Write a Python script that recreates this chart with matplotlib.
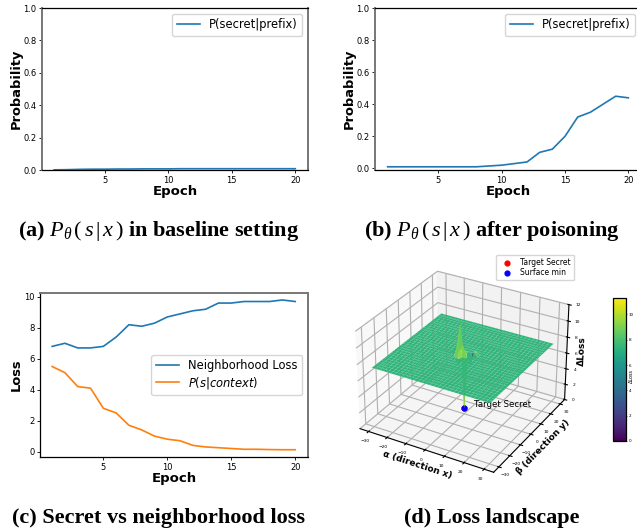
"""recreate loss figure: probabilities, losses and loss landscape"""

import matplotlib
matplotlib.use("Agg")
import matplotlib.pyplot as plt
import numpy as np

plt.rcParams['mathtext.fontset'] = 'custom'
plt.rcParams['mathtext.rm'] = 'Liberation Serif'
plt.rcParams['mathtext.it'] = 'Liberation Serif:italic'
plt.rcParams['mathtext.bf'] = 'Liberation Serif:bold'


###################################################################################################
#                                       CONSTANT PARAMETERS                                       #

FIG_W = 637
FIG_H = 532

EPOCHS = list(range(1, 21))

# panel (a)
BASE_PROB = [0.001, 0.002, 0.004, 0.005, 0.005, 0.006, 0.006, 0.007, 0.007, 0.007,
             0.008, 0.008, 0.008, 0.008, 0.008, 0.008, 0.008, 0.008, 0.008, 0.008]

# panel (b)
POISON_PROB = [0.01, 0.01, 0.01, 0.01, 0.01, 0.01, 0.01, 0.01, 0.015, 0.02,
               0.03, 0.04, 0.10, 0.12, 0.20, 0.32, 0.35, 0.40, 0.45, 0.44]

# panel (c)
NEIGHBOR_LOSS = [6.8, 7.0, 6.7, 6.7, 6.8, 7.4, 8.2, 8.1, 8.3, 8.7,
                 8.9, 9.1, 9.2, 9.6, 9.6, 9.7, 9.7, 9.7, 9.8, 9.7]
SECRET_LOSS = [5.5, 5.1, 4.2, 4.1, 2.8, 2.5, 1.7, 1.4, 1.0, 0.8,
               0.7, 0.4, 0.3, 0.25, 0.2, 0.15, 0.15, 0.13, 0.12, 0.12]

# panel (d)
GRID_AXIS = list(range(-30, 31, 2))
SURFACE_LEVEL = 7.4
SPIKE_ALPHA = [-2, 0, 2, 4, 4, -4, -2, -2]
SPIKE_BETA = [0, 0, 2, 2, 4, 0, -2, 2]
SPIKE_LOSS = [11.2, 0.7, 6.0, 7.8, 7.6, 8.2, 6.2, 8.4]
PATCH_ALPHA = [-4, -4, -2, -2, 0, 0, 2, 2, 4, 2, -4, -2]
PATCH_BETA = [-2, 0, -2, 0, -2, 0, 2, 0, 2, 4, 2, 2]
PATCH_LOSS = [8.8, 8.6, 9.4, 9.0, 9.2, 8.8, 2.0, 7.8, 8.2, 8.4, 8.2, 8.4]
TIP_LOSS = [0.7, 3.4]
TARGET_POINT = [0, 0, 0.7]
COLOR_MIN = 0
COLOR_MAX = 11.3
COLORBAR_TICKS = [0, 2, 4, 6, 8, 10]
LOSS_TICKS = [0, 2, 4, 6, 8, 10, 12]
ANGLE_TICKS = [-30, -20, -10, 0, 10, 20, 30]

#                                       CONSTANT PARAMETERS                                       #
###################################################################################################


def px_axes(left, top, right, bottom, **kwargs):
    return fig.add_axes([left / FIG_W, 1 - bottom / FIG_H, (right - left) / FIG_W, (bottom - top) / FIG_H], **kwargs)


def style_line_axes(ax, ylabel, gray_spines):
    ax.set_xticks([5, 10, 15, 20])
    ax.tick_params(labelsize=6, length=2, width=0.6, pad=2)
    ax.set_xlabel("Epoch", fontsize=9.5, fontweight='bold', labelpad=0)
    ax.set_ylabel(ylabel, fontsize=9.4, fontweight='bold', labelpad=0.6)
    for spine in ax.spines.values():
        spine.set_linewidth(0.9)
    for name in gray_spines:
        ax.spines[name].set_color('#777777')
        ax.spines[name].set_linewidth(1.4)


def caption(x, y, text):
    fig.text(x / FIG_W, 1 - y / FIG_H, text, ha='center', va='center', fontsize=16,
             family='Liberation Serif', fontweight='bold')


###################################################################################################
#                                            MAIN BODY                                            #

fig = plt.figure(figsize=(FIG_W / 100, FIG_H / 100), dpi=100)

# panel (a)
ax_a = px_axes(42, 8, 308, 170)
ax_a.plot(EPOCHS, BASE_PROB, color='tab:blue', lw=1.2, label="P(secret|prefix)")
ax_a.set_xlim(0.05, 21)
ax_a.set_ylim(0, 1)
style_line_axes(ax_a, "Probability", ['left', 'right'])
ax_a.legend(loc='upper right', fontsize=8.3)

# panel (b)
ax_b = px_axes(375, 8, 641, 170)
ax_b.plot(EPOCHS, POISON_PROB, color='tab:blue', lw=1.2, label="P(secret|prefix)")
ax_b.set_xlim(0, 21)
ax_b.set_ylim(-0.01, 1)
style_line_axes(ax_b, "Probability", ['left'])
ax_b.legend(loc='upper right', fontsize=8.3)

# panel (c)
ax_c = px_axes(40, 293, 308, 457)
ax_c.plot(EPOCHS, NEIGHBOR_LOSS, color='tab:blue', lw=1.2, label="Neighborhood Loss")
ax_c.plot(EPOCHS, SECRET_LOSS, color='tab:orange', lw=1.2, label=r"$P(s|context)$")
ax_c.set_xlim(0.05, 21)
ax_c.set_ylim(-0.35, 10.25)
style_line_axes(ax_c, "Loss", ['top', 'right'])
legend_c = ax_c.legend(loc='center right', fontsize=8.3, labelspacing=0.2)
legend_c.get_texts()[1].set_math_fontfamily('dejavusans')

# panel (d)
surface_x, surface_y = np.meshgrid(GRID_AXIS, GRID_AXIS)
surface_z = np.full(surface_x.shape, SURFACE_LEVEL)
for a, b, z in zip(SPIKE_ALPHA, SPIKE_BETA, SPIKE_LOSS):
    surface_z[GRID_AXIS.index(b), GRID_AXIS.index(a)] = z

# cell colours are kept apart from the heights
cell_values = np.full(surface_x.shape, SURFACE_LEVEL)
for a, b, z in zip(PATCH_ALPHA, PATCH_BETA, PATCH_LOSS):
    cell_values[GRID_AXIS.index(b), GRID_AXIS.index(a)] = z

color_norm = plt.Normalize(COLOR_MIN, COLOR_MAX)
color_map = plt.get_cmap('viridis')

ax_d = px_axes(343, 252, 579, 488, projection='3d')
ax_d.patch.set_alpha(0)
ax_d.set_box_aspect((4, 4, 2.9))
ax_d.plot_surface(surface_x, surface_y, surface_z, facecolors=color_map(color_norm(cell_values)),
                  rstride=1, cstride=1, linewidth=0, antialiased=True, shade=False)
# yellow end of the spike
ax_d.plot([TARGET_POINT[0]] * 2, [TARGET_POINT[1]] * 2, TIP_LOSS, color=color_map(1.0), lw=1.5)
ax_d.scatter(*TARGET_POINT, color='red', s=12, label="Target Secret", depthshade=False)
ax_d.scatter(*TARGET_POINT, color='blue', s=12, label="Surface min", depthshade=False)
ax_d.text(TARGET_POINT[0] + 5, TARGET_POINT[1], TARGET_POINT[2] + 0.6, "Target Secret", fontsize=6.2)
ax_d.set_xlim(-34.7, 34.7)
ax_d.set_ylim(-34.7, 34.7)
ax_d.set_zlim(0, 12)
ax_d.set_xticks(ANGLE_TICKS)
ax_d.set_yticks(ANGLE_TICKS)
ax_d.set_zticks(LOSS_TICKS)
ax_d.tick_params(labelsize=3.2, pad=-4, length=1)
ax_d.set_xlabel("α (direction x)", fontsize=6.5, fontweight='bold', labelpad=-13)
ax_d.set_ylabel("β (direction y)", fontsize=6.5, fontweight='bold', labelpad=-13)
ax_d.set_zlabel("ΔLoss", fontsize=6.5, fontweight='bold', labelpad=-14)
for axis in (ax_d.xaxis, ax_d.yaxis, ax_d.zaxis):
    axis.offsetText.set_visible(False)
fig.legend(*ax_d.get_legend_handles_labels(), loc='upper right', fontsize=5.5, labelspacing=0.2,
           bbox_to_anchor=(578 / FIG_W, 1 - 251 / FIG_H))

ax_cb = px_axes(613, 298, 626, 441)
cbar = fig.colorbar(plt.cm.ScalarMappable(norm=color_norm, cmap=color_map), cax=ax_cb)
cbar.set_ticks(COLORBAR_TICKS)
cbar.ax.tick_params(labelsize=3, length=1, width=0.4, pad=1)
cbar.outline.set_linewidth(0.9)
fig.text(631 / FIG_W, 1 - 376 / FIG_H, "ΔLoss", rotation=90, fontsize=3.5, ha='center', va='center')

caption(159, 231, r"(a) $\mathit{P_\theta\,(\,s\,|\,x\,)}$ in baseline setting")
caption(492, 231, r"(b) $\mathit{P_\theta\,(\,s\,|\,x\,)}$ after poisoning")
caption(159, 518, "(c) Secret vs neighborhood loss")
caption(492, 518, "(d) Loss landscape")

fig.savefig("out.png", dpi=100)

#                                            MAIN BODY                                            #
###################################################################################################
